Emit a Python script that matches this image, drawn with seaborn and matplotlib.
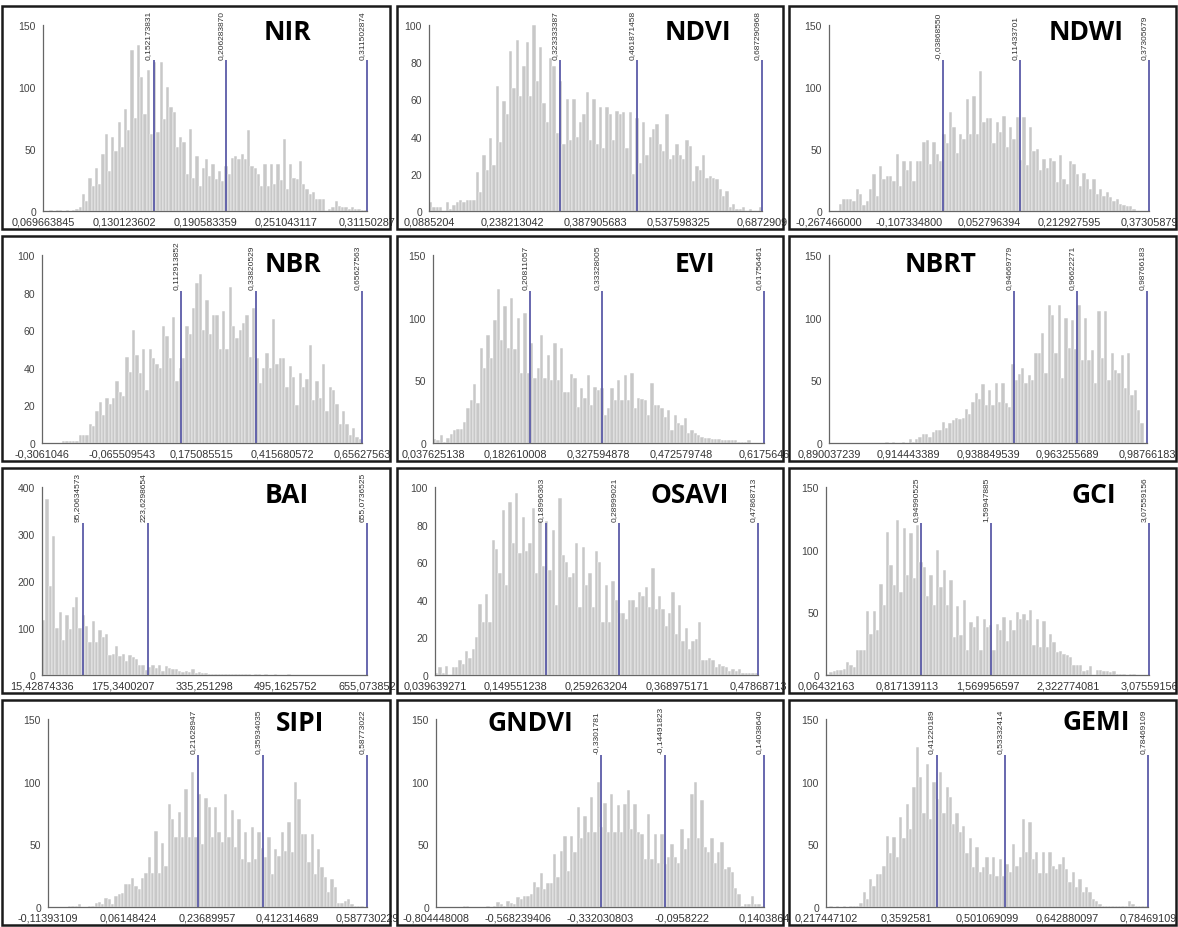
import numpy as np
import seaborn as sns
import matplotlib.pyplot as plt
from matplotlib.patches import Rectangle

sns.set_style("white")
plt.rcParams['font.family'] = ['Liberation Sans', 'DejaVu Sans']

# Data
names = ["NIR", "NDVI", "NDWI", "NBR", "EVI", "NBRT",
         "BAI", "OSAVI", "GCI", "SIPI", "GNDVI", "GEMI"]

# x tick labels (5 evenly spaced ticks, first = min, last = max)
nir_ticks = ["0,069663845", "0,130123602", "0,190583359", "0,251043117", "0,31150287"]
ndvi_ticks = ["0,0885204", "0,238213042", "0,387905683", "0,537598325", "0,6872909"]
ndwi_ticks = ["-0,267466000", "-0,107334800", "0,052796394", "0,212927595", "0,37305879"]
nbr_ticks = ["-0,3061046", "-0,065509543", "0,175085515", "0,415680572", "0,65627563"]
evi_ticks = ["0,037625138", "0,182610008", "0,327594878", "0,472579748", "0,6175646"]
nbrt_ticks = ["0,890037239", "0,914443389", "0,938849539", "0,963255689", "0,98766183"]
bai_ticks = ["15,42874336", "175,3400207", "335,251298", "495,1625752", "655,073852"]
osavi_ticks = ["0,039639271", "0,149551238", "0,259263204", "0,368975171", "0,47868713"]
gci_ticks = ["0,06432163", "0,817139113", "1,569956597", "2,322774081", "3,07559156"]
sipi_ticks = ["-0,11393109", "0,06148424", "0,23689957", "0,412314689", "0,587730229"]
gndvi_ticks = ["-0,804448008", "-0,568239406", "-0,332030803", "-0,0958222", "0,1403864"]
gemi_ticks = ["0,217447102", "0,3592581", "0,501069099", "0,642880097", "0,78469109"]

# marker lines (value labels)
nir_lines = ["0,152173831", "0,206283870", "0,311502874"]
ndvi_lines = ["0,323333387", "0,461871458", "0,687290968"]
ndwi_lines = ["-0,03868550", "0,11433701", "0,37305679"]
nbr_lines = ["0,112913852", "0,33820529", "0,65627563"]
evi_lines = ["0,20811057", "0,33328005", "0,61756461"]
nbrt_lines = ["0,94669779", "0,96622271", "0,98766183"]
bai_lines = ["95,20634573", "223,6298654", "655,0736525"]
osavi_lines = ["0,18996363", "0,28999021", "0,47868713"]
gci_lines = ["0,94990525", "1,59947885", "3,07559156"]
sipi_lines = ["0,21628947", "0,35934035", "0,58773022"]
gndvi_lines = ["-0,3301781", "-0,14491823", "0,14038640"]
gemi_lines = ["0,41220189", "0,53332414", "0,78469109"]

# histogram counts per bin
nir_counts = [0, 0, 1, 0, 1, 1, 0, 1, 0, 1, 2, 3, 14, 8, 27, 20, 35, 22, 46, 62, 32, 60, 48, 72, 52,
              82, 65, 130, 75, 134, 108, 78, 114, 62, 120, 64, 120, 74, 100, 84, 80, 52, 60, 56, 30,
              66, 27, 44, 20, 35, 42, 28, 38, 26, 32, 24, 36, 30, 43, 44, 42, 46, 42, 65, 36, 35, 30,
              20, 38, 20, 38, 22, 38, 25, 58, 18, 38, 27, 26, 40, 22, 18, 14, 15, 10, 10, 10, 0, 2, 3,
              8, 4, 3, 3, 2, 3, 2, 2, 1, 1]
ndvi_counts = [5, 2, 2, 2, 0, 5, 1, 3, 5, 6, 5, 6, 6, 6, 21, 10, 30, 22, 39, 25, 67, 37, 59, 52, 86,
               66, 92, 62, 78, 91, 62, 100, 70, 88, 58, 48, 82, 78, 42, 70, 36, 60, 38, 60, 40, 48,
               52, 64, 38, 60, 36, 56, 34, 56, 52, 38, 54, 52, 53, 34, 53, 20, 50, 26, 48, 30, 40, 44,
               47, 36, 32, 52, 28, 30, 36, 30, 28, 38, 35, 16, 24, 22, 30, 18, 19, 18, 17, 12, 8, 11,
               2, 4, 1, 1, 2, 0, 1, 0, 0, 2]
ndwi_counts = [0, 0, 0, 6, 10, 10, 10, 8, 18, 14, 5, 8, 18, 30, 12, 36, 26, 28, 28, 24, 46, 20, 40, 33,
               40, 24, 40, 40, 56, 57, 38, 56, 46, 40, 62, 55, 80, 68, 47, 62, 58, 90, 62, 93, 62, 113,
               72, 75, 75, 55, 72, 64, 77, 52, 68, 58, 76, 41, 76, 37, 68, 48, 50, 33, 42, 35, 43, 40,
               23, 45, 26, 22, 40, 38, 30, 20, 31, 26, 18, 26, 14, 18, 12, 15, 11, 8, 10, 6, 5, 4, 4,
               2, 0, 0, 0, 0]
nbr_counts = [0, 0, 0, 0, 0, 0, 1, 1, 1, 1, 1, 4, 4, 4, 10, 9, 17, 22, 15, 24, 21, 24, 33, 27, 25, 46,
              38, 60, 47, 37, 50, 28, 50, 45, 42, 40, 62, 57, 45, 67, 33, 40, 45, 62, 58, 72, 85, 90,
              60, 76, 58, 68, 68, 50, 70, 50, 83, 62, 56, 60, 64, 68, 46, 72, 45, 32, 40, 48, 40, 66,
              42, 45, 45, 30, 41, 35, 20, 37, 30, 34, 52, 23, 33, 24, 42, 17, 30, 28, 21, 10, 17, 10,
              4, 8, 3, 2]
evi_counts = [3, 2, 6, 1, 4, 7, 10, 11, 11, 17, 28, 34, 47, 32, 76, 60, 86, 68, 98, 123, 82, 109, 76,
              116, 75, 100, 56, 104, 56, 80, 52, 60, 86, 52, 70, 50, 80, 50, 76, 41, 41, 55, 52, 29,
              44, 36, 54, 30, 45, 42, 44, 22, 28, 44, 34, 50, 34, 54, 34, 56, 28, 36, 35, 34, 22, 48,
              30, 30, 28, 21, 26, 10, 22, 16, 14, 20, 8, 10, 8, 6, 5, 4, 4, 3, 3, 3, 2, 2, 2, 2, 2, 1,
              1, 1, 2, 0, 0, 0, 0]
nbrt_counts = [0, 0, 0, 0, 0, 0, 0, 0, 0, 0, 0, 0, 0, 0, 0, 0, 0, 1, 0, 1, 0, 0, 1, 0, 3, 1, 3, 5, 7,
               7, 5, 9, 10, 10, 17, 12, 16, 18, 20, 19, 20, 27, 23, 33, 40, 35, 47, 30, 42, 30, 48, 33,
               48, 32, 29, 63, 50, 55, 60, 48, 54, 50, 72, 72, 88, 56, 110, 102, 72, 110, 52, 100, 76,
               98, 75, 110, 66, 100, 66, 74, 48, 105, 68, 105, 50, 72, 58, 56, 70, 44, 72, 38, 42, 26,
               16, 0]
bai_counts = [118, 375, 190, 295, 100, 135, 75, 128, 98, 145, 165, 100, 128, 105, 70, 115, 70, 95, 80,
              88, 42, 45, 62, 40, 45, 30, 42, 38, 33, 22, 22, 10, 18, 22, 14, 22, 8, 19, 15, 12, 12, 8,
              6, 8, 6, 12, 5, 6, 4, 4, 3, 3, 2, 3, 2, 2, 3, 2, 2, 2, 2, 2, 2, 1, 2, 2, 1, 2, 1, 1, 2,
              1, 1, 1, 2, 1, 1, 1, 1, 1, 1, 1, 1, 1, 1, 1, 1, 1, 1, 1, 1, 1, 1, 1, 1, 1, 1, 1]
osavi_counts = [1, 4, 1, 5, 0, 4, 4, 8, 6, 13, 9, 14, 20, 38, 28, 43, 28, 72, 67, 54, 88, 48, 92, 70,
                97, 65, 84, 66, 70, 89, 54, 82, 58, 82, 56, 77, 37, 94, 64, 60, 52, 54, 70, 36, 68,
                48, 54, 36, 66, 60, 28, 48, 28, 50, 40, 33, 33, 30, 40, 40, 36, 44, 42, 47, 36, 57,
                35, 42, 35, 26, 33, 44, 22, 37, 18, 25, 14, 18, 19, 28, 8, 8, 9, 8, 4, 6, 5, 4, 2, 3,
                2, 3, 1, 1, 1, 1, 1]
gci_counts = [1, 2, 3, 4, 4, 5, 10, 8, 6, 20, 20, 20, 51, 33, 51, 36, 73, 56, 114, 88, 72, 124, 66,
              117, 80, 113, 77, 120, 90, 86, 63, 80, 56, 100, 70, 84, 56, 76, 30, 55, 32, 60, 20, 42,
              38, 47, 20, 45, 38, 40, 20, 41, 36, 46, 27, 44, 36, 50, 45, 49, 44, 52, 24, 45, 22, 43,
              22, 33, 26, 18, 19, 17, 16, 14, 8, 8, 8, 3, 4, 7, 0, 4, 4, 3, 3, 2, 3, 1, 1, 1, 0, 1, 1,
              0, 0, 0, 0]
sipi_counts = [0, 0, 0, 0, 0, 0, 1, 1, 1, 2, 0, 0, 1, 1, 3, 4, 2, 7, 6, 2, 9, 10, 11, 18, 18, 23, 17,
               14, 23, 27, 40, 27, 61, 27, 51, 33, 82, 70, 56, 76, 56, 94, 56, 108, 56, 90, 50, 87, 80,
               56, 80, 60, 52, 90, 56, 77, 48, 70, 38, 60, 36, 64, 38, 60, 47, 40, 56, 26, 46, 41, 60,
               45, 68, 44, 100, 86, 58, 58, 36, 58, 26, 46, 32, 24, 12, 22, 16, 3, 3, 5, 6, 2, 1, 1,
               1, 0]
gndvi_counts = [0, 0, 0, 0, 0, 0, 0, 0, 1, 1, 0, 0, 0, 0, 0, 1, 0, 1, 4, 2, 1, 5, 3, 2, 8, 6, 9, 9, 10,
                20, 16, 27, 14, 19, 19, 42, 24, 45, 57, 29, 57, 44, 80, 55, 73, 60, 88, 60, 100, 64,
                83, 60, 90, 60, 81, 60, 82, 93, 62, 82, 60, 58, 38, 74, 38, 58, 35, 58, 34, 40, 50, 40,
                35, 62, 46, 55, 90, 100, 55, 85, 48, 44, 55, 35, 44, 52, 30, 32, 28, 15, 10, 1, 2, 2,
                9, 2, 2, 1]
gemi_counts = [0, 1, 0, 1, 0, 1, 0, 1, 1, 1, 3, 12, 6, 22, 17, 26, 26, 33, 57, 43, 56, 40, 72, 55, 82,
               62, 96, 128, 104, 75, 114, 70, 100, 86, 108, 75, 96, 88, 66, 75, 60, 65, 43, 55, 32, 48,
               28, 32, 40, 26, 40, 25, 38, 25, 34, 28, 50, 33, 40, 70, 44, 68, 38, 44, 27, 44, 27, 44,
               33, 30, 34, 40, 30, 20, 28, 16, 22, 12, 16, 12, 6, 5, 2, 1, 1, 1, 1, 1, 1, 1, 1, 5, 2,
               1, 1, 1, 1]

y_tops = [150, 100, 150, 100, 150, 150, 400, 100, 150, 150, 150, 150]
y_steps = [50, 20, 50, 20, 50, 50, 100, 20, 50, 50, 50, 50]

all_ticks = [nir_ticks, ndvi_ticks, ndwi_ticks, nbr_ticks, evi_ticks, nbrt_ticks,
             bai_ticks, osavi_ticks, gci_ticks, sipi_ticks, gndvi_ticks, gemi_ticks]
all_lines = [nir_lines, ndvi_lines, ndwi_lines, nbr_lines, evi_lines, nbrt_lines,
             bai_lines, osavi_lines, gci_lines, sipi_lines, gndvi_lines, gemi_lines]
all_counts = [nir_counts, ndvi_counts, ndwi_counts, nbr_counts, evi_counts, nbrt_counts,
              bai_counts, osavi_counts, gci_counts, sipi_counts, gndvi_counts, gemi_counts]

# Layout (pixels)
W, H = 1178, 928
col_l = [2, 397, 789]
col_r = [390, 783, 1176]
row_t = [7, 237, 469, 701]
row_b = [230, 462, 694, 926]
ax_left = [41, 32, 40, 40, 36, 40, 40, 38, 37, 46, 39, 37]
ax_right = [23, 21, 27, 28, 19, 29, 23, 25, 27, 23, 19, 28]
title_pos = [(285, 26), (301, 26), (297, 26), (291, 27), (298, 27), (152, 27),
             (285, 27), (293, 27), (305, 27), (298, 23), (133, 23), (307, 22)]


def num(s):
    return float(s.replace(",", "."))


fig = plt.figure(figsize=(W / 100, H / 100), dpi=100)

for k, name in enumerate(names):
    r, c = divmod(k, 3)
    pl, pr, pt, pb = col_l[c], col_r[c], row_t[r], row_b[r]

    # panel frame
    fig.add_artist(Rectangle((pl / W, 1 - pb / H), (pr - pl) / W, (pb - pt) / H,
                             transform=fig.transFigure, fill=False,
                             edgecolor="#1a1a1a", linewidth=1.8))

    x0 = pl + ax_left[k]
    x1 = pr - ax_right[k]
    y0 = pb - 18
    y1 = pt + 19
    ax = fig.add_axes([x0 / W, 1 - y0 / H, (x1 - x0) / W, (y0 - y1) / H])

    ticks = all_ticks[k]
    lo, hi = num(ticks[0]), num(ticks[-1])
    counts = np.array(all_counts[k])
    n = len(counts)
    centers = lo + (np.arange(n) + 0.5) * (hi - lo) / n

    sns.histplot(x=centers, weights=counts, bins=n, binrange=(lo, hi), ax=ax,
                 color="#c8c8c8", edgecolor="white", linewidth=0.35, alpha=1)

    ytop = y_tops[k]
    ax.set_xlim(lo, hi)
    ax.set_ylim(0, ytop)
    ax.set_xlabel("")
    ax.set_ylabel("")
    ax.set_xticks(np.linspace(lo, hi, 5))
    ax.set_xticklabels(ticks, fontsize=7.8, color="#333333")
    ax.set_yticks(np.arange(0, ytop + 1, y_steps[k]))
    ax.tick_params(axis="y", labelsize=7.5, labelcolor="#444444", length=4,
                   width=0.8, color="#666666", pad=1)
    ax.tick_params(axis="x", direction="inout", length=6, width=0.8,
                   color="#666666", pad=1)
    sns.despine(ax=ax)
    for side in ["left", "bottom"]:
        ax.spines[side].set_color("#666666")
        ax.spines[side].set_linewidth(0.9)

    # marker lines with rotated value labels
    ltop = 0.81 * ytop
    for lab in all_lines[k]:
        v = num(lab)
        ax.vlines(v, 0, ltop, color="#5c5ca8", linewidth=1.3, clip_on=False)
        ax.annotate(lab, (v, ltop), xytext=(-1, 1), textcoords="offset points",
                    rotation=90, ha="right", va="bottom", fontsize=6,
                    color="#333333", annotation_clip=False)

    tx, ty = title_pos[k]
    fig.text((pl + tx) / W, 1 - (pt + ty) / H, name, ha="center", va="center",
             fontsize=19, fontweight="bold", family=["Open Sans", "DejaVu Sans"],
             color="black")

plt.savefig("out.png", dpi=100)
